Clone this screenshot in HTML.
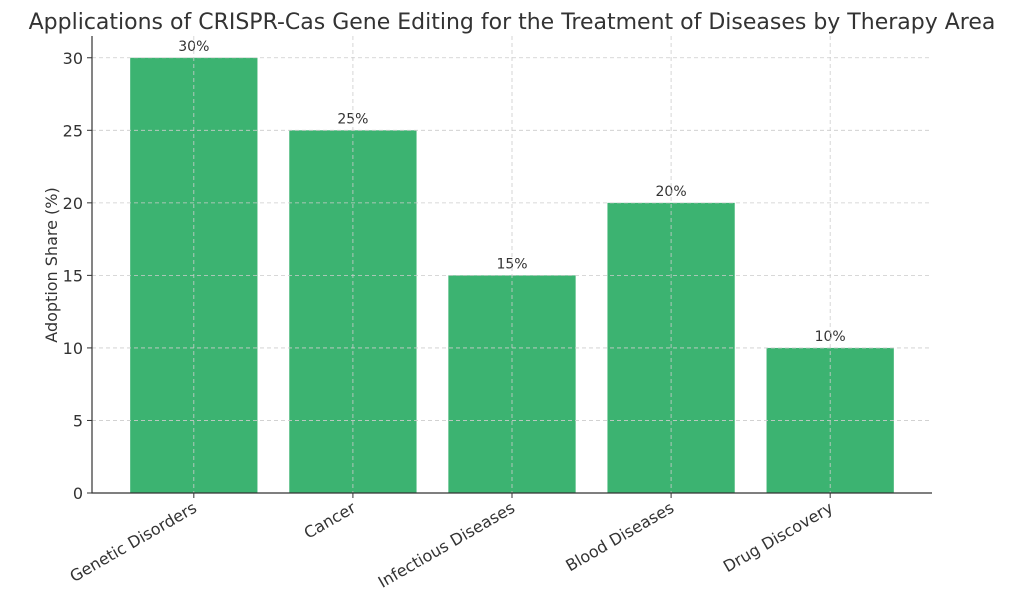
<!DOCTYPE html>
<html><head><meta charset="utf-8"><style>
body{margin:0;background:#fff;font-family:"Liberation Sans","DejaVu Sans",sans-serif;}
svg text{font-family:"DejaVu Sans","Liberation Sans",sans-serif;fill:#333;}
</style></head><body>
<svg id="chart" width="1024" height="606">
<text x="512" y="29" text-anchor="middle" font-size="22">Applications of CRISPR-Cas Gene Editing for the Treatment of Diseases by Therapy Area</text>
<g id="grid"></g><g id="bars"></g><g id="grid2"></g><g id="axes"></g>
<text transform="translate(57,265) rotate(-90)" text-anchor="middle" font-size="16">Adoption Share (%)</text>
</svg>
<script>
const categories=["Genetic Disorders","Cancer","Infectious Diseases","Blood Diseases","Drug Discovery"];
const values=[30,25,15,20,10];
const valueLabels=["30%","25%","15%","20%","10%"];
const yTicks=[0,5,10,15,20,25,30];
const L=92,R=932,T=36,B=493,ymax=31.5,xmin=-0.64,xmax=4.64;
const ns="http://www.w3.org/2000/svg";
const x=i=>L+(i-xmin)/(xmax-xmin)*(R-L);
const y=v=>B-v/ymax*(B-T);
const bw=0.8*(x(1)-x(0));
function mk(t,a,p){const e=document.createElementNS(ns,t);for(const k in a)e.setAttribute(k,a[k]);document.getElementById(p).appendChild(e);return e;}
yTicks.forEach(v=>{
 const g=mk('line',{x1:L,x2:R,y1:y(v),y2:y(v),stroke:'#ccc','stroke-dasharray':'4,3','stroke-width':0.8},'grid2');
 
 
 const t=mk('line',{x1:L-5,x2:L,y1:y(v),y2:y(v),stroke:'#333'},'axes');
 
 
 const l=mk('text',{x:L-9,y:y(v)+6,'text-anchor':'end','font-size':16},'axes');
 l.textContent=v;
 
 
});
categories.forEach((c,i)=>{
 const r=mk('rect',{x:x(i)-bw/2,y:y(values[i]),width:bw,height:B-y(values[i]),fill:'#3cb371'},'bars');
 
 
 const g=mk('line',{x1:x(i),x2:x(i),y1:T,y2:B,stroke:'#ccc','stroke-dasharray':'4,3','stroke-width':0.8},'grid2');
 
 
 const v=mk('text',{x:x(i),y:y(values[i])-7,'text-anchor':'middle','font-size':14},'bars');
 v.textContent=valueLabels[i];
 
 
 const t=mk('line',{x1:x(i),x2:x(i),y1:B,y2:B+5,stroke:'#333'},'axes');
 
 
 const l=mk('text',{transform:`translate(${x(i)+4},${B+18}) rotate(-30)`,'text-anchor':'end','font-size':16},'axes');
 l.textContent=c;
 
 
});
const ax=mk('path',{d:`M${L},${T}V${B}H${R}`,fill:'none',stroke:'#333','stroke-width':1.2},'axes');


</script>
</body></html>
